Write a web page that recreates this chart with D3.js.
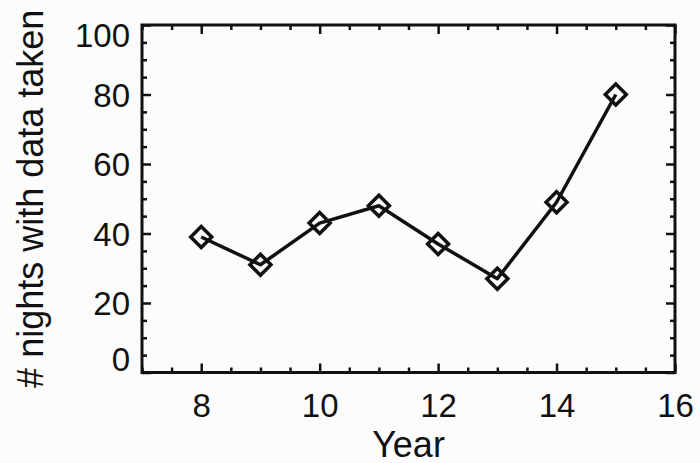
<!DOCTYPE html>
<html>
<head>
<meta charset="utf-8">
<script src="https://cdn.jsdelivr.net/npm/d3@7"></script>
<style>
  html, body { margin: 0; padding: 0; background: #fcfcfc; }
  svg { display: block; }
  text { font-family: "Liberation Sans", Arial, Helvetica, sans-serif; fill: #111; }
</style>
</head>
<body>
<script>
// Observing nights per year
const years = [8, 9, 10, 11, 12, 13, 14, 15];
const nights = [39, 31, 43, 48, 37, 27, 49, 80];

const xMajorTicks = [8, 10, 12, 14, 16];
const yMajorTicks = [0, 20, 40, 60, 80, 100];
const xTitle = "Year";
const yTitle = "# nights with data taken";

const W = 700, H = 463;
const plot = { left: 142, right: 675, top: 25, bottom: 372.5 };

const svg = d3.select("body").append("svg")
  .attr("width", W).attr("height", H);

const x = d3.scaleLinear().domain([7, 16]).range([plot.left, plot.right]);
const y = d3.scaleLinear().domain([0, 100]).range([plot.bottom, plot.top]);

const xMinor = d3.range(7, 16.001, 0.5).filter(v => !xMajorTicks.includes(v));
const yMinor = d3.range(0, 100.001, 5).filter(v => !yMajorTicks.includes(v));

const ink = "#111";
const MAJ = 9, MIN = 5;

function styleAxis(g) {
  g.select(".domain").remove();
  g.selectAll(".tick line").attr("stroke", ink).attr("stroke-width", 2.5);
}

// bottom axis: major ticks with labels, minor ticks without
svg.append("g").attr("transform", `translate(0,${plot.bottom})`)
  .call(d3.axisBottom(x).tickValues(xMajorTicks).tickSize(-MAJ).tickPadding(21).tickFormat(d3.format("d")))
  .call(styleAxis)
  .call(g => g.selectAll("text").attr("font-size", 33).attr("fill", ink));
svg.append("g").attr("transform", `translate(0,${plot.bottom})`)
  .call(d3.axisBottom(x).tickValues(xMinor).tickSize(-MIN).tickFormat(""))
  .call(styleAxis);

// top axis: ticks only
svg.append("g").attr("transform", `translate(0,${plot.top})`)
  .call(d3.axisTop(x).tickValues(xMajorTicks).tickSize(-MAJ).tickFormat(""))
  .call(styleAxis);
svg.append("g").attr("transform", `translate(0,${plot.top})`)
  .call(d3.axisTop(x).tickValues(xMinor).tickSize(-MIN).tickFormat(""))
  .call(styleAxis);

// left axis with labels; end labels kept inside the frame height
svg.append("g").attr("transform", `translate(${plot.left},0)`)
  .call(d3.axisLeft(y).tickValues(yMajorTicks).tickSize(-MAJ).tickPadding(12).tickFormat(d3.format("d")))
  .call(styleAxis)
  .call(g => g.selectAll("text")
    .attr("font-size", 33).attr("fill", ink)
    .attr("dy", d => d === 0 ? "-0.05em" : d === 100 ? "0.65em" : "0.36em"));
svg.append("g").attr("transform", `translate(${plot.left},0)`)
  .call(d3.axisLeft(y).tickValues(yMinor).tickSize(-MIN).tickFormat(""))
  .call(styleAxis);

// right axis: ticks only
svg.append("g").attr("transform", `translate(${plot.right},0)`)
  .call(d3.axisRight(y).tickValues(yMajorTicks).tickSize(-MAJ).tickFormat(""))
  .call(styleAxis);
svg.append("g").attr("transform", `translate(${plot.right},0)`)
  .call(d3.axisRight(y).tickValues(yMinor).tickSize(-MIN).tickFormat(""))
  .call(styleAxis);

// frame
svg.append("rect")
  .attr("x", plot.left).attr("y", plot.top)
  .attr("width", plot.right - plot.left).attr("height", plot.bottom - plot.top)
  .attr("fill", "none").attr("stroke", ink).attr("stroke-width", 3);

// series line
const data = years.map((yr, i) => ({ yr, n: nights[i] }));
svg.append("path")
  .datum(data)
  .attr("fill", "none").attr("stroke", ink).attr("stroke-width", 3.5)
  .attr("stroke-linejoin", "round")
  .attr("d", d3.line().x(d => x(d.yr)).y(d => y(d.n)));

// diamond markers
const R = 10.5;
svg.append("g").selectAll("path")
  .data(data).join("path")
  .attr("transform", d => `translate(${x(d.yr)},${y(d.n)})`)
  .attr("d", `M0,${-R}L${R},0L0,${R}L${-R},0Z`)
  .attr("fill", "none").attr("stroke", ink).attr("stroke-width", 3.5);

// axis titles
svg.append("text")
  .attr("x", (plot.left + plot.right) / 2).attr("y", 456.5)
  .attr("text-anchor", "middle").attr("font-size", 36)
  .text(xTitle);
svg.append("text")
  .attr("transform", `translate(43,${(plot.top + plot.bottom) / 2}) rotate(-90)`)
  .attr("text-anchor", "middle").attr("font-size", 36)
  .text(yTitle);
</script>
</body>
</html>
